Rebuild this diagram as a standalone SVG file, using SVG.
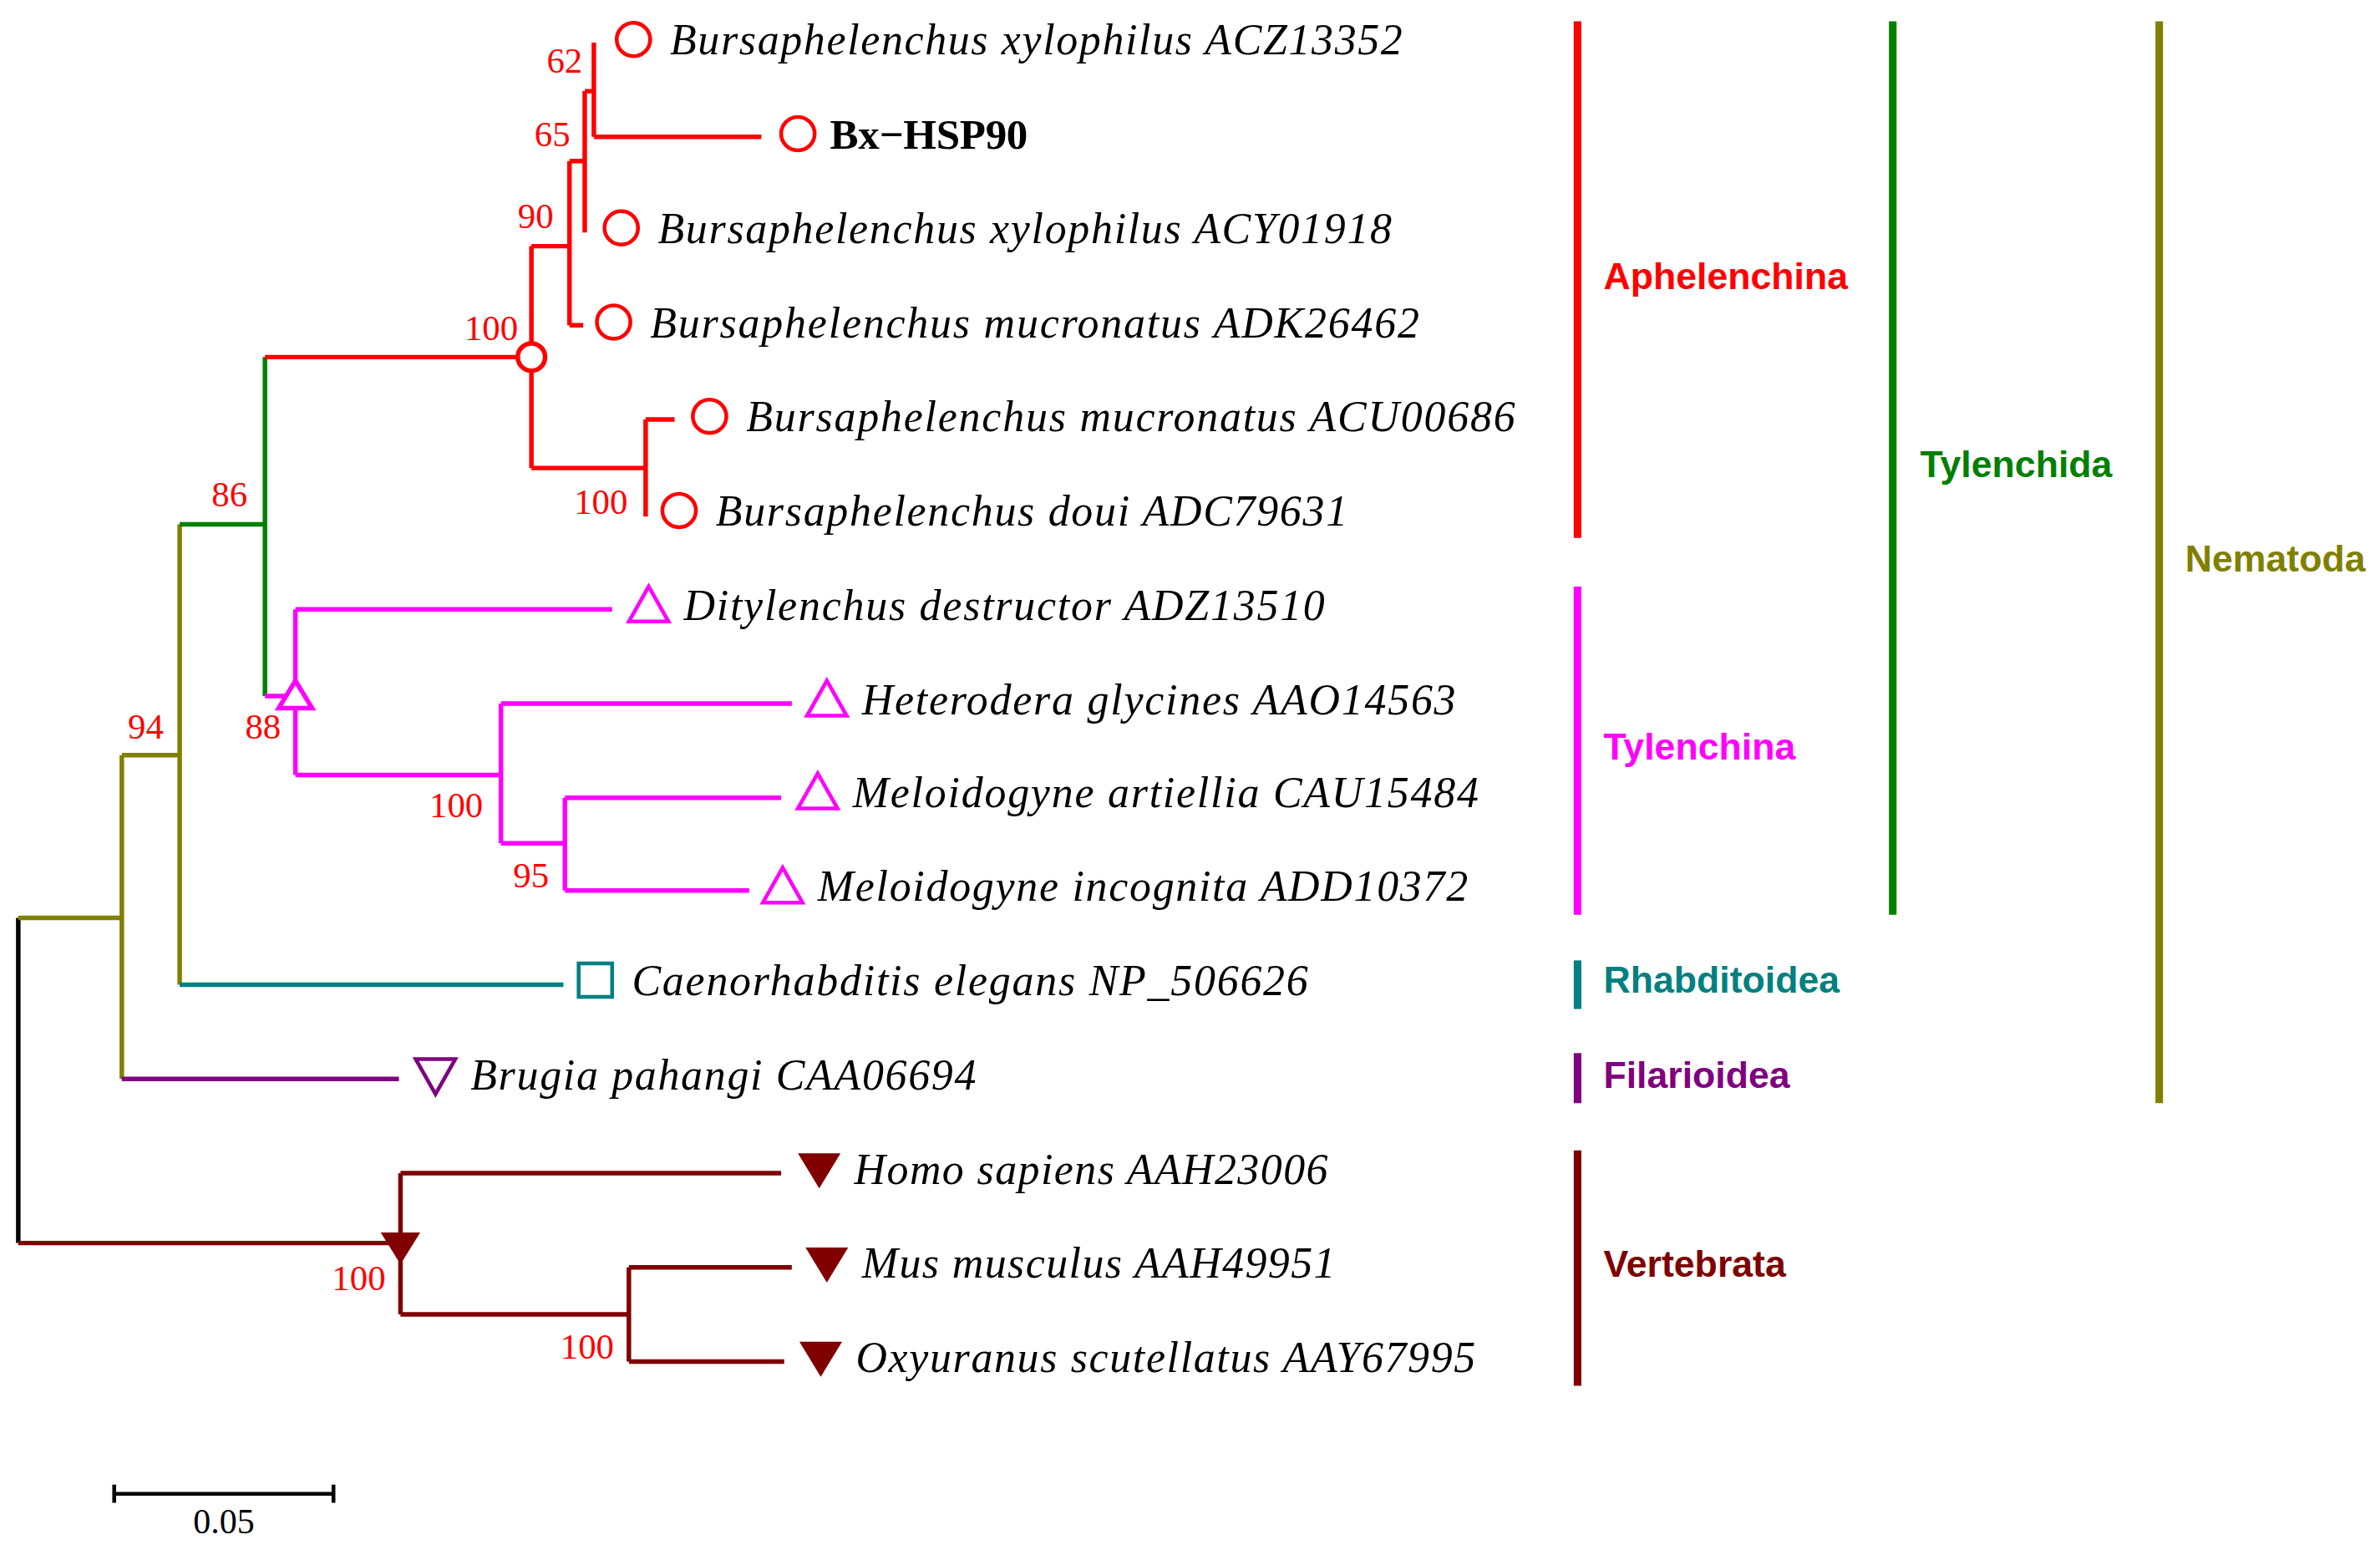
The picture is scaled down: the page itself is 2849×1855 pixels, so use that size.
<svg xmlns="http://www.w3.org/2000/svg" width="2849" height="1855" viewBox="0 0 2849 1855">
<style>
.t{font-family:"Liberation Serif",serif;font-style:italic;font-size:28.5px;fill:#000}
.b{font-family:"Liberation Serif",serif;font-size:23.5px;fill:#f00}
.g{font-family:"Liberation Sans",sans-serif;font-weight:bold;font-size:24.5px}
.e{fill:none;stroke-width:3}
.m{fill:none;stroke-width:2.5}
.bar{stroke-width:5}
</style>
<rect width="2849" height="1855" fill="#fff"/>
<g transform="scale(1.8228,1.8186)">
<g id="connectors" class="e">
<path d="M12,604V818" stroke="#000"/>
<path d="M12,604H80M80,497V710M80,497H118M118,345V648" stroke="#808000"/>
<path d="M80,710H262" stroke="#800080"/>
<path d="M118,648H370" stroke="#008080"/>
<path d="M118,345H174M174,235V458" stroke="#008000"/>
<path d="M174,235H349M349,162V308M349,162H374M374,106V214M374,214H383M374,106H384M384,60V153M384,60H390M390,28V90M390,90H500M349,308H424M424,276V340M424,276H443" stroke="#f00"/>
<path d="M174,458H194M194,401V510M194,401H402M194,510H329M329,463V555M329,463H520M329,555H371M371,525V586M371,525H513M371,586H492" stroke="#f0f"/>
<path d="M12,818H263M263,772V865M263,772H513M263,865H413M413,834V896M413,834H520M413,896H515" stroke="#800000"/>
</g>
<g id="bootstrap" class="b">
<text x="359" y="48">62</text><text x="351" y="96">65</text><text x="340" y="150">90</text>
<text x="305" y="224">100</text><text x="377" y="338">100</text><text x="139" y="333">86</text>
<text x="84" y="486">94</text><text x="161" y="486">88</text><text x="282" y="538">100</text>
<text x="337" y="584">95</text><text x="218" y="849">100</text><text x="368" y="894">100</text>
</g>
<g id="n_internal">
<circle cx="349" cy="235" r="9" fill="#fff" stroke="#f00" stroke-width="3"/>
<path d="M194,448L205,466H183Z" fill="#fff" stroke="#f0f" stroke-width="3"/>
<path d="M250,811H276L263,832Z" fill="#800000"/>
</g>
<g id="leaf1"><circle cx="416" cy="26" r="11" class="m" stroke="#f00"/><text class="t" x="440" y="36" textLength="481">Bursaphelenchus xylophilus ACZ13352</text></g>
<g id="leaf2"><circle cx="524" cy="88" r="11" class="m" stroke="#f00"/><text x="545" y="98" font-family="Liberation Serif,serif" font-weight="bold" font-size="28" textLength="130">Bx−HSP90</text></g>
<g id="leaf3"><circle cx="408" cy="150" r="11" class="m" stroke="#f00"/><text class="t" x="432" y="160" textLength="482">Bursaphelenchus xylophilus ACY01918</text></g>
<g id="leaf4"><circle cx="403" cy="212" r="11" class="m" stroke="#f00"/><text class="t" x="427" y="222" textLength="505">Bursaphelenchus mucronatus ADK26462</text></g>
<g id="leaf5"><circle cx="466" cy="274" r="11" class="m" stroke="#f00"/><text class="t" x="490" y="284" textLength="505">Bursaphelenchus mucronatus ACU00686</text></g>
<g id="leaf6"><circle cx="446" cy="336" r="11" class="m" stroke="#f00"/><text class="t" x="470" y="346" textLength="415">Bursaphelenchus doui ADC79631</text></g>
<g id="leaf7"><path d="M426,386L439,409H413Z" class="m" stroke="#f0f"/><text class="t" x="449" y="408" textLength="421">Ditylenchus destructor ADZ13510</text></g>
<g id="leaf8"><path d="M543,448L556,471H530Z" class="m" stroke="#f0f"/><text class="t" x="566" y="470" textLength="390">Heterodera glycines AAO14563</text></g>
<g id="leaf9"><path d="M537,509L550,532H524Z" class="m" stroke="#f0f"/><text class="t" x="560" y="531" textLength="411">Meloidogyne artiellia CAU15484</text></g>
<g id="leaf10"><path d="M514,571L527,594H501Z" class="m" stroke="#f0f"/><text class="t" x="537" y="593" textLength="427">Meloidogyne incognita ADD10372</text></g>
<g id="leaf11"><rect x="380" y="634" width="22" height="22" class="m" stroke="#008080"/><text class="t" x="415" y="655" textLength="444">Caenorhabditis elegans NP_506626</text></g>
<g id="leaf12"><path d="M273,697H299L286,720Z" class="m" stroke="#800080"/><text class="t" x="309" y="717" textLength="332">Brugia pahangi CAA06694</text></g>
<g id="leaf13"><path d="M524,759H552L538,782Z" fill="#800000"/><text class="t" x="561" y="779" textLength="311">Homo sapiens AAH23006</text></g>
<g id="leaf14"><path d="M529,821H557L543,844Z" fill="#800000"/><text class="t" x="566" y="841" textLength="311">Mus musculus AAH49951</text></g>
<g id="leaf15"><path d="M525,883H553L539,906Z" fill="#800000"/><text class="t" x="562" y="903" textLength="407">Oxyuranus scutellatus AAY67995</text></g>
<g id="groups" class="g">
<line x1="1036" y1="14" x2="1036" y2="354" stroke="#f00" class="bar"/><text x="1053" y="190" fill="#f00">Aphelenchina</text>
<line x1="1036" y1="386" x2="1036" y2="602" stroke="#f0f" class="bar"/><text x="1053" y="500" fill="#f0f">Tylenchina</text>
<line x1="1036" y1="632" x2="1036" y2="664" stroke="#008080" class="bar"/><text x="1053" y="653" fill="#008080">Rhabditoidea</text>
<line x1="1036" y1="693" x2="1036" y2="726" stroke="#800080" class="bar"/><text x="1053" y="716" fill="#800080">Filarioidea</text>
<line x1="1036" y1="757" x2="1036" y2="912" stroke="#800000" class="bar"/><text x="1053" y="840" fill="#800000">Vertebrata</text>
<line x1="1243" y1="14" x2="1243" y2="602" stroke="#008000" class="bar"/><text x="1261" y="314" fill="#008000">Tylenchida</text>
<line x1="1418" y1="14" x2="1418" y2="726" stroke="#808000" class="bar"/><text x="1435" y="376" fill="#808000">Nematoda</text>
</g>
<g id="scale">
<path d="M75,983H219M75,977V989M219,977V989" stroke="#000" stroke-width="2.5" fill="none"/>
<text x="147" y="1009" text-anchor="middle" font-family="Liberation Serif,serif" font-size="23">0.05</text>
</g>
</g>
</svg>
